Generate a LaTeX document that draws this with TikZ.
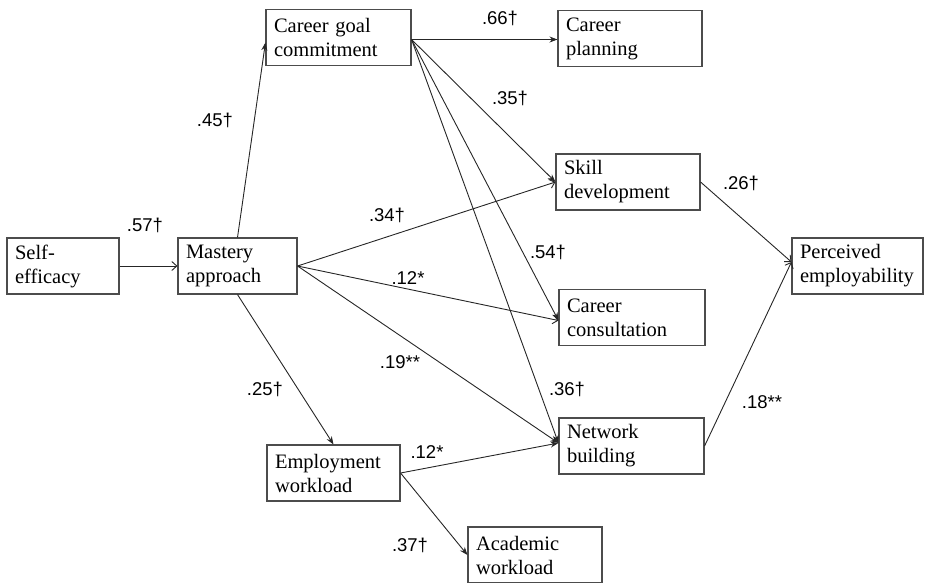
\documentclass[tikz,border=0pt]{standalone}
\usepackage{fontspec}
\setmainfont{Liberation Serif}
\newfontfamily\coeffont{Liberation Sans}
\usetikzlibrary{arrows.meta}

\begin{document}
\begin{tikzpicture}[x=1pt,y=-1pt,
		var/.style={draw=black!70,line width=1.1pt,minimum height=56pt,inner xsep=8pt,inner ysep=0pt,
			text width=#1,align=left,font=\fontsize{20.5}{24}\selectfont},
		coef/.style={font=\coeffont\fontsize{18.5}{20}\selectfont,inner sep=0pt},
		link/.style={draw=black!85,line width=0.9pt,-{Stealth[length=8pt,width=6pt]}},
		openlink/.style={link,-{Straight Barb[length=5pt,width=9pt]}}]
		\useasboundingbox (0,0) rectangle (926,582);
		% variables
		\node[var=96pt]  (se)  at (63,266)    {Self-\\efficacy};
		\node[var=103pt] (ma)  at (237.5,266) {Mastery\\approach};
		\node[var=129pt] (cgc) at (338.5,37.5) {Career goal\\commitment};
		\node[var=128pt] (cp)  at (630,38.5)  {Career\\planning};
		\node[var=128pt] (sd)  at (628,182)   {Skill\\development};
		\node[var=130pt] (cc)  at (632,317.5) {Career\\consultation};
		\node[var=129pt] (nb)  at (631.5,446) {Network\\building};
		\node[var=117pt] (ew)  at (333.5,473) {Employment\\workload};
		\node[var=118pt] (aw)  at (535,555)   {Academic\\workload};
		\node[var=115pt] (pe)  at (857.5,266) {Perceived\\employability};
		\coordinate (cgcout) at ([yshift=-2pt]cgc.east);
		% paths
		\draw[openlink] (se.east) -- (ma.west);
		\draw[link] (ma.north) -- ([yshift=-5pt]cgc.west);
		\draw[link] (cgcout) -- (cgcout -| cp.west);
		\draw[link] (cgcout) -- (sd.west);
		\draw[link] (cgcout) -- ([yshift=-3pt]cc.west);
		\draw[link] (cgcout) -- ([yshift=3pt]nb.west);
		\draw[openlink] (ma.east) -- (sd.west);
		\draw[openlink] (ma.east) -- ([yshift=-3pt]cc.west);
		\draw[link] (ma.east) -- ([yshift=3pt]nb.west);
		\draw[link] (ma.south) -- (ew.north);
		\draw[link] (ew.east) -- ([yshift=3pt]nb.west);
		\draw[link] (ew.east) -- (aw.west);
		\draw[openlink] (sd.east) -- ([yshift=4pt]pe.west);
		\draw[openlink] (nb.east) -- ([yshift=4pt]pe.west);
		% coefficients
		\node[coef] (c57) at (145,225) {.57†};
		\node[coef] (c45) at (215,120) {.45†};
		\node[coef] (c66) at (500,18)  {.66†};
		\node[coef] (c35) at (510,98)  {.35†};
		\node[coef] (c34) at (387,215) {.34†};
		\node[coef] (c54) at (548,252) {.54†};
		\node[coef] (c12a) at (408,278) {.12*};
		\node[coef] (c19) at (400,362) {.19**};
		\node[coef] (c36) at (567,389) {.36†};
		\node[coef] (c25) at (265,389) {.25†};
		\node[coef] (c12b) at (427,452) {.12*};
		\node[coef] (c37) at (410,545) {.37†};
		\node[coef] (c26) at (741,183) {.26†};
		\node[coef] (c18) at (762,402) {.18**};
\end{tikzpicture}
\end{document}
